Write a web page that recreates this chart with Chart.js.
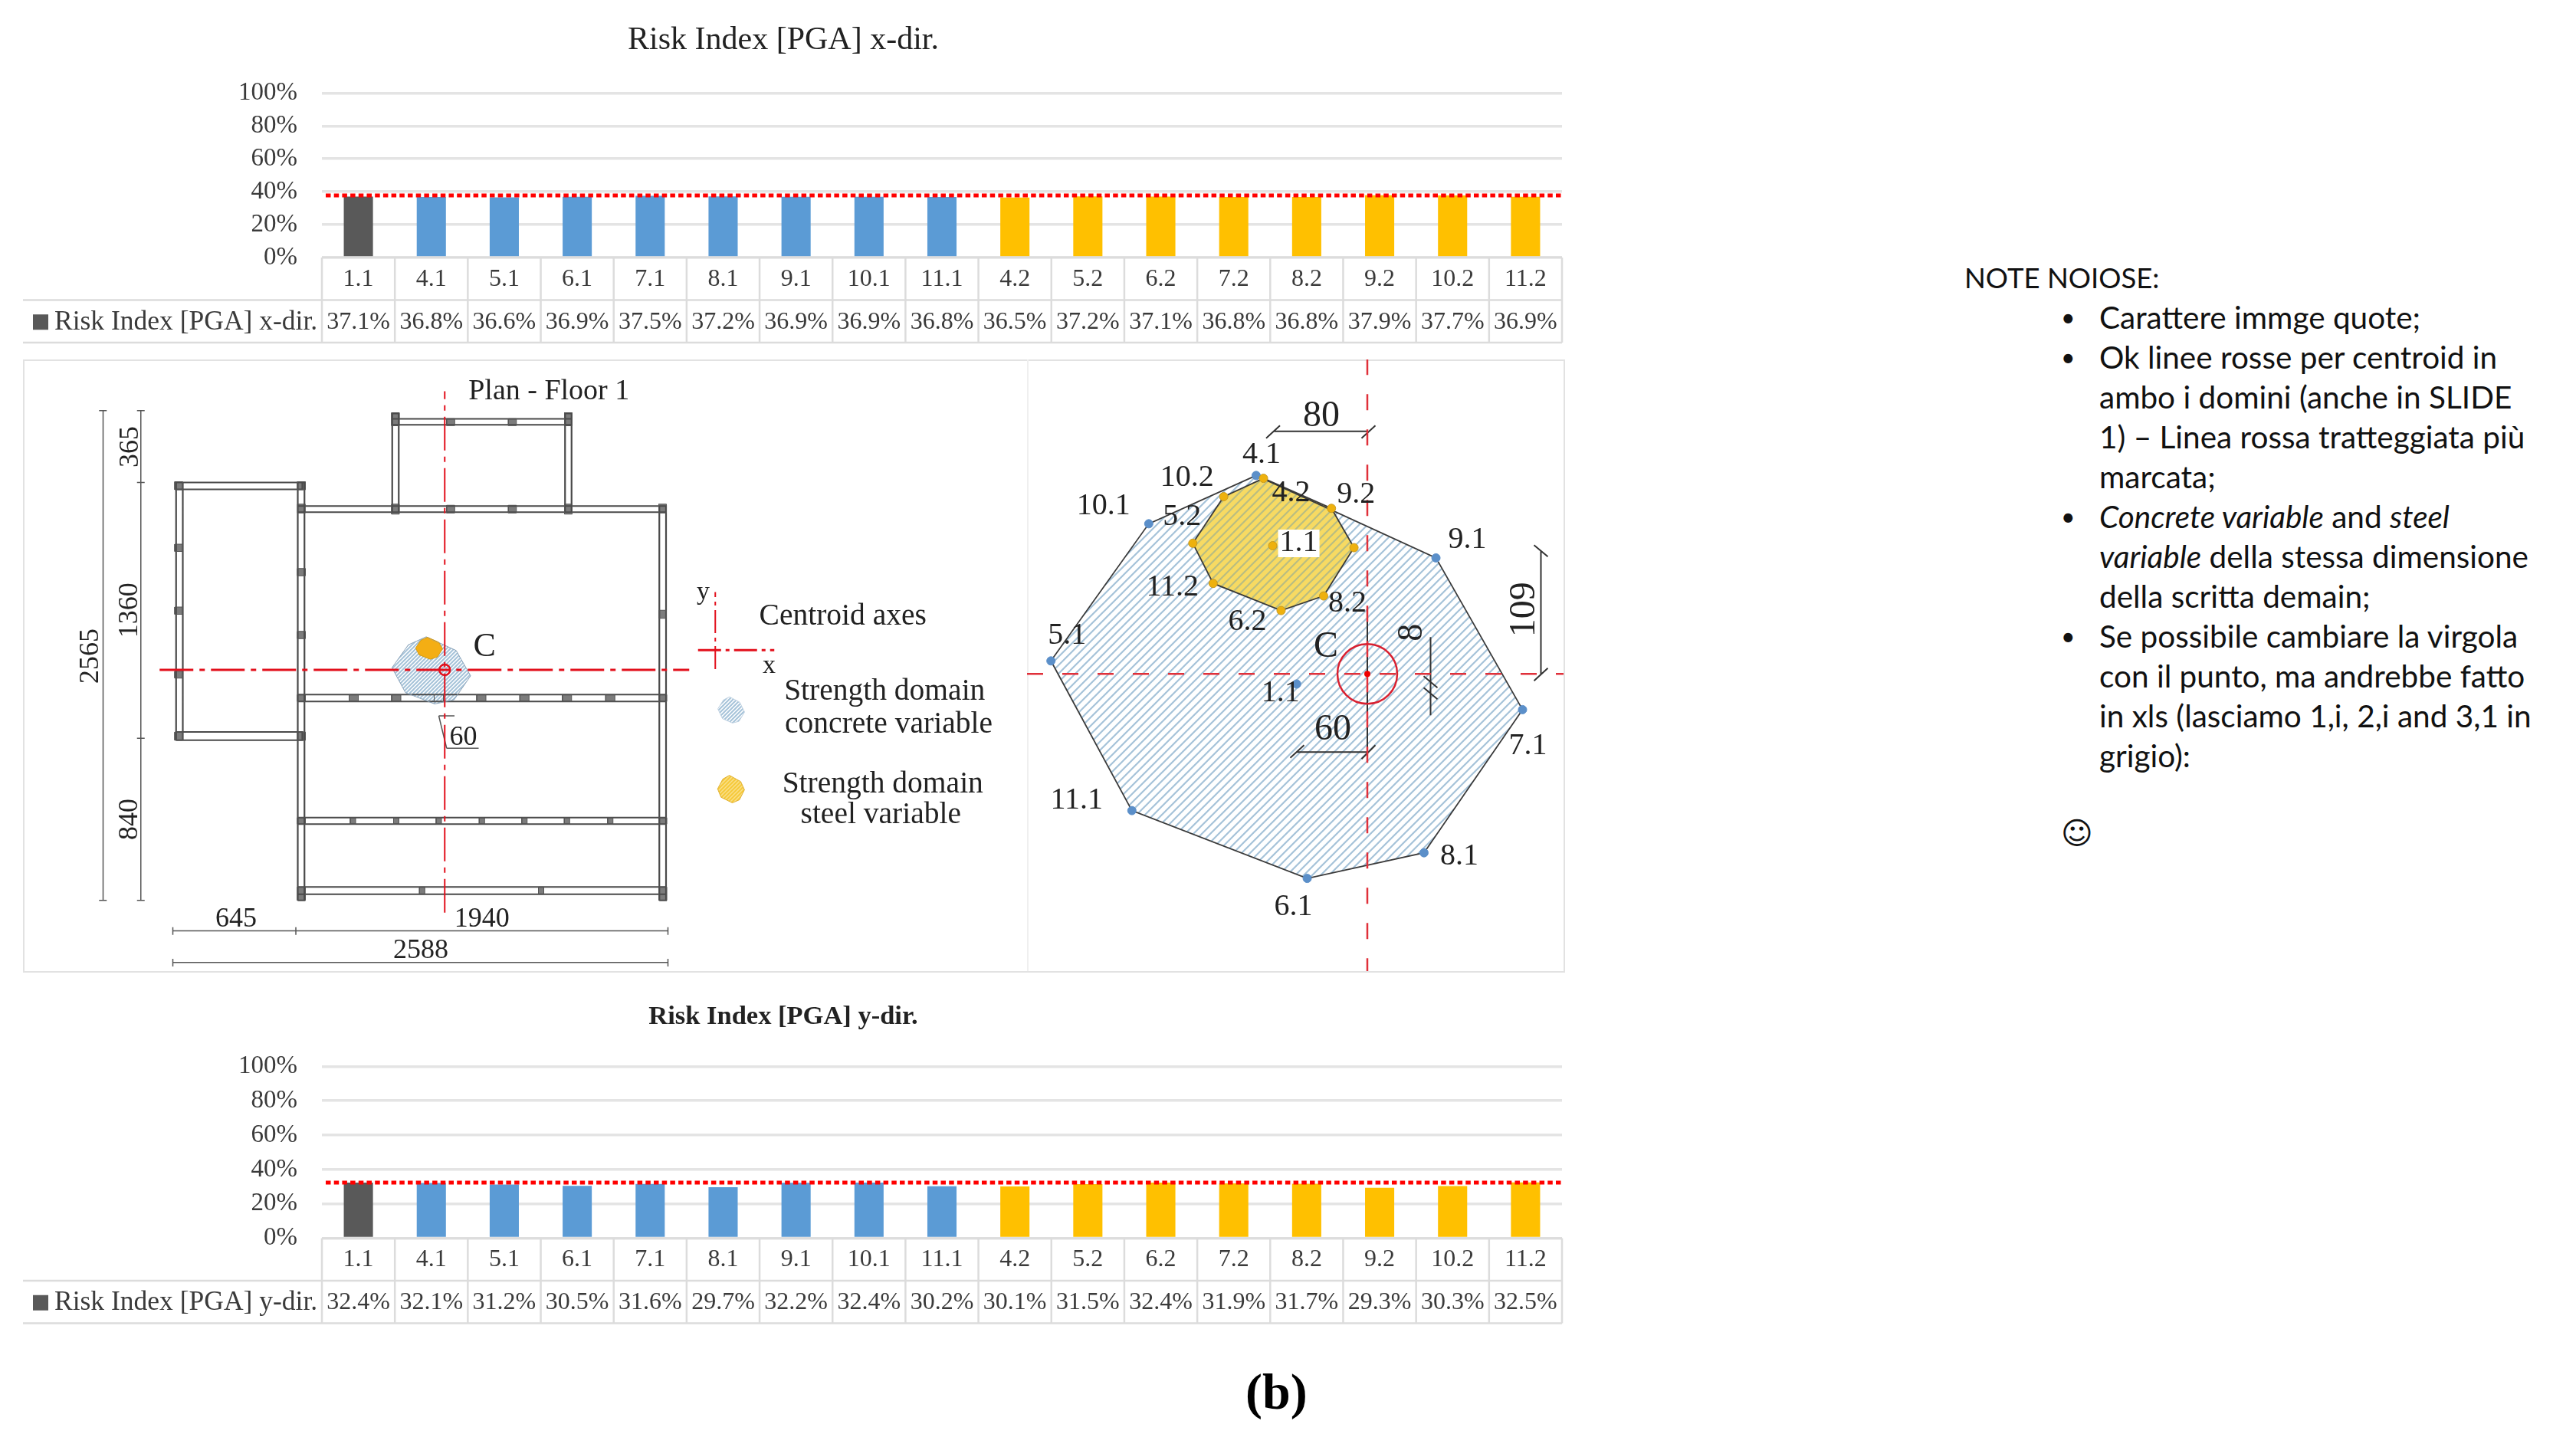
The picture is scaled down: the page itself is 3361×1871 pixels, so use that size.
<!DOCTYPE html>
<html>
<head>
<meta charset="utf-8">
<title>Risk Index [PGA]</title>
<script src="https://cdn.jsdelivr.net/npm/chart.js@4/dist/chart.umd.min.js"></script>
<style>
  html, body { margin: 0; padding: 0; background: #fff; }
  body { position: relative; width: 3361px; height: 1871px; overflow: hidden; }
  canvas { position: absolute; }
  #panel { position: absolute; left: 30px; top: 469px; width: 2008px; height: 796px; border: 2px solid #e2e2e2; }
  #divider { position: absolute; left: 1340px; top: 469px; width: 2px; height: 798px; background: #efefef; }
  #figLabel { position: absolute; left: 1625px; top: 1778px; font: bold 66px "Liberation Serif", serif; color: #000; }
  #notes { position: absolute; left: 2563px; top: 336px; font: 36.5px/52px Lato, sans-serif; color: #111; white-space: nowrap; }
  #notes ul { margin: 0; padding: 0 0 0 176px; list-style: none; font-size: 40.5px; }
  #notes li { position: relative; }
  #notes li::before { content: "•"; position: absolute; left: -50px; font-size: 32px; }
  #notes .smile { margin: 52px 0 0 126px; font: 40px "DejaVu Sans", sans-serif; }
</style>
</head>
<body>
<div id="panel"></div>
<div id="divider"></div>
<canvas id="riskX" width="2044" height="460" style="left:0;top:0"></canvas>
<canvas id="planChart" width="1310" height="798" style="left:30px;top:469px"></canvas>
<canvas id="domainChart" width="700" height="798" style="left:1340px;top:469px"></canvas>
<canvas id="riskY" width="2044" height="460" style="left:0;top:1280px"></canvas>
<div id="figLabel">(b)</div>
<div id="notes">
  NOTE NOIOSE:
  <ul>
    <li>Carattere immge quote;</li>
    <li>Ok linee rosse per centroid in<br>ambo i domini (anche in SLIDE<br>1) – Linea rossa tratteggiata più<br>marcata;</li>
    <li><i>Concrete variable</i> and <i>steel</i><br><i>variable</i> della stessa dimensione<br>della scritta demain;</li>
    <li>Se possibile cambiare la virgola<br>con il punto, ma andrebbe fatto<br>in xls (lasciamo 1,i, 2,i and 3,1 in<br>grigio):</li>
  </ul>
  <div class="smile">☺</div>
</div>

<script>
const categories = ['1.1', '4.1', '5.1', '6.1', '7.1', '8.1', '9.1', '10.1', '11.1', '4.2', '5.2', '6.2', '7.2', '8.2', '9.2', '10.2', '11.2'];
const riskXValues = [37.1, 36.8, 36.6, 36.9, 37.5, 37.2, 36.9, 36.9, 36.8, 36.5, 37.2, 37.1, 36.8, 36.8, 37.9, 37.7, 36.9];
const riskYValues = [32.4, 32.1, 31.2, 30.5, 31.6, 29.7, 32.2, 32.4, 30.2, 30.1, 31.5, 32.4, 31.9, 31.7, 29.3, 30.3, 32.5];
const riskXLimit = 37.7;
const riskYLimit = 32.3;

// strength domains, cm from the centroid
const concreteNames = ['4.1', '9.1', '7.1', '8.1', '6.1', '11.1', '5.1', '10.1'];
const concreteX = [-96.7, 59.7, 135, 49.3, -52.3, -204.8, -275.2, -190.1];
const concreteY = [172.6, 100.9, -31.1, -155.6, -177.9, -118.9, 11.3, 130.6];
const steelNames = ['4.2', '9.2', '7.2', '8.2', '6.2', '11.2', '5.2', '10.2'];
const steelX = [-90.3, -31.2, -11.6, -38, -75, -134.1, -151.8, -124.9];
const steelY = [170.1, 144, 109.8, 67.8, 55.1, 78.7, 113.6, 154.2];
const concreteCentre = [-61.5, -8.8];
const steelCentre = [-82.3, 111.5];

// floor plan, cm from the bottom left corner: [x1, y1, x2, y2]
const planBeams = [
  [17, 2145, 676, 2181], [17, 836, 676, 879], [17, 836, 52, 2181],
  [652, 0, 687, 2181], [2539, 0, 2574, 2058], [652, 2026, 2574, 2058],
  [652, 1038, 2574, 1074], [652, 398, 2574, 432], [652, 32, 2574, 70],
  [1145, 2482, 2081, 2513], [1145, 2026, 1179, 2541], [2047, 2026, 2081, 2541]
];
// columns: [centre x, centre y, width, depth]
const planColumns = [
  [1162, 2511, 40, 68], [2064, 2511, 40, 68],
  [1450, 2496, 42, 36], [1772, 2496, 42, 36],
  [671, 2045, 40, 46], [1162, 2042, 40, 52], [1450, 2042, 42, 40], [1772, 2042, 42, 40], [2064, 2042, 40, 52], [2556, 2045, 40, 46],
  [31, 2164, 42, 42], [671, 2164, 42, 42], [31, 1840, 42, 38], [31, 1512, 42, 38], [31, 1178, 42, 36], [31, 857, 42, 43], [671, 857, 42, 43],
  [671, 1713, 42, 38], [671, 1385, 42, 38], [2556, 1493, 36, 42],
  [671, 1056, 42, 36], [944, 1056, 48, 36], [1166, 1056, 48, 36], [1388, 1056, 48, 36], [1610, 1056, 48, 36], [1835, 1056, 48, 36], [2057, 1056, 48, 36], [2283, 1056, 48, 36], [2557, 1056, 42, 36],
  [671, 415, 42, 34], [940, 415, 28, 34], [1166, 415, 28, 34], [1388, 415, 28, 34], [1613, 415, 28, 34], [1835, 415, 28, 34], [2057, 415, 28, 34], [2283, 415, 28, 34], [2557, 415, 42, 34],
  [671, 35, 42, 70], [1301, 51, 28, 38], [1922, 51, 28, 38], [2557, 35, 42, 70]
];
const planDimensions = [
  [-364, 0, -364, 2556], [-167, 0, -167, 2556],
  [-385, 2556, -345, 2556], [-385, 0, -345, 0], [-187, 2556, -147, 2556], [-187, 2181, -147, 2181], [-187, 846, -147, 846], [-187, 0, -147, 0],
  [0, -159, 2584, -159], [0, -324, 2584, -324],
  [0, -180, 0, -140], [642, -180, 642, -140], [2584, -180, 2584, -140], [0, -345, 0, -305], [2584, -345, 2584, -305],
  [1388, 963, 1470, 963], [1388, 963, 1429, 794], [1429, 794, 1596, 794]
];
const planCentroid = [1419, 1203];
const planAxisX = [-69, 2695];
const planAxisY = [-64, 2657];
const legendAxisX = [2741, 3139, 1306];
const legendAxisY = [2831, 1207, 1609];
const legendConcrete = [2938, 995];
const legendSteel = [2995, 440];

// dimension marks of the domain sketch: [x1, y1, x2, y2]
const domainDimensions = [
  [-81, 211, 0, 211], [-88, 205, -76, 216], [-5, 205, 7, 216],
  [-61, -68, 0, -68], [-67, -73, -55, -62], [-5, -74, 7, -62],
  [151, 0, 151, 107], [145, 112, 157, 102], [145, -6, 157, 5],
  [55, -36, 55, 32], [49, -2, 61, -12], [49, -12, 61, -22],
  [0, 54, 0, -68]
];

const planLabels = [
  ['Plan - Floor 1', 1963, 2656, 38, 0],
  ['365', -219, 2367, 36, -90], ['1360', -225, 1514, 36, -90], ['2565', -427, 1275, 36, -90], ['840', -225, 423, 36, -90],
  ['645', 330, -100, 36, 0], ['1940', 1613, -100, 36, 0], ['2588', 1294, -265, 36, 0], ['60', 1516, 847, 36, 0],
  ['C', 1627, 1323, 44, 0], ['y', 2768, 1605, 34, 0], ['x', 3112, 1224, 34, 0],
  ['Centroid axes', 3497, 1482, 39.5, 0],
  ['Strength domain', 3715, 1090, 39.5, 0], ['concrete variable', 3736, 917, 39.5, 0],
  ['Strength domain', 3705, 603, 39.5, 0], ['steel variable', 3695, 445, 39.5, 0]
];
const domainLabels = [
  ['80', -40, 224, 48, 0], ['60', -30, -49, 48, 0], ['109', 137, 56, 48, -90], ['8', 39, 36, 46, -90], ['C', -36, 23, 48, 0]
];
// label offsets from the vertex, in pixels
const concreteOffsets = [[7, -27], [41, -23], [7, 48], [46, 5], [-18, 37], [-72, -13], [21, -33], [-59, -23]];
const steelOffsets = [[36, 19], [32, -18], null, [31, 10], [-44, 15], [-53, 5], [-14, -34], [-48, -24]];

const SERIF = '"Liberation Serif", serif';
const TEXT_COLOR = '#3a3a3a';
const RED = '#e2101c';

function toPoints(xs, ys) {
  return xs.map((x, i) => ({ x: x, y: ys[i] }));
}

// closed path, so the outline comes back to the first vertex
function closed(points) {
  return points.concat([points[0]]);
}

function fromSegments(segments) {
  return segments.flatMap(s => [{ x: s[0], y: s[1] }, { x: s[2], y: s[3] }, { x: NaN, y: NaN }]);
}

function fromRects(rects) {
  return rects.flatMap(r => [
    { x: r[0], y: r[1] }, { x: r[2], y: r[1] }, { x: r[2], y: r[3] }, { x: r[0], y: r[3] }, { x: r[0], y: r[1] }, { x: NaN, y: NaN }
  ]);
}

function hatchPattern(background, lineColor, size, width) {
  const tile = document.createElement('canvas');
  tile.width = size;
  tile.height = size;
  const c = tile.getContext('2d');
  c.fillStyle = background;
  c.fillRect(0, 0, size, size);
  c.strokeStyle = lineColor;
  c.lineWidth = width;
  c.beginPath();
  c.moveTo(-1, 1); c.lineTo(1, -1);
  c.moveTo(0, size); c.lineTo(size, 0);
  c.moveTo(size - 1, size + 1); c.lineTo(size + 1, size - 1);
  c.stroke();
  return c.createPattern(tile, 'repeat');
}

function lineSet(data, color, width, extra) {
  return Object.assign({
    data: data, showLine: true, borderColor: color, borderWidth: width,
    pointRadius: 0, spanGaps: false, backgroundColor: 'transparent'
  }, extra || {});
}

// fill of the polygon datasets, under all the lines
// last dataset first, the same stacking Chart.js uses for the lines
const polygonFillPlugin = {
  id: 'polygonFill',
  beforeDatasetsDraw(chart) {
    const ctx = chart.ctx;
    const xs = chart.scales.x;
    const ys = chart.scales.y;
    ctx.save();
    chart.data.datasets.slice().reverse().forEach(ds => {
      if (!ds.polygonFill) return;
      ctx.beginPath();
      let open = false;
      ds.data.forEach(p => {
        if (isNaN(p.x)) { open = false; return; }
        const px = xs.getPixelForValue(p.x);
        const py = ys.getPixelForValue(p.y);
        if (open) ctx.lineTo(px, py); else ctx.moveTo(px, py);
        open = true;
      });
      ctx.fillStyle = ds.polygonFill;
      ctx.fill();
    });
    ctx.restore();
  }
};

// text placed by data coordinates
const sketchTextPlugin = {
  id: 'sketchText',
  afterDatasetsDraw(chart, args, opts) {
    const ctx = chart.ctx;
    const xs = chart.scales.x;
    const ys = chart.scales.y;
    ctx.save();
    ctx.textAlign = 'center';
    ctx.textBaseline = 'middle';
    (opts.items || []).forEach(t => {
      const px = xs.getPixelForValue(t.x) + (t.dx || 0);
      const py = ys.getPixelForValue(t.y) + (t.dy || 0);
      ctx.save();
      ctx.translate(px, py);
      ctx.rotate((t.rot || 0) * Math.PI / 180);
      ctx.font = t.size + 'px ' + SERIF;
      if (t.box) {
        const w = ctx.measureText(t.text).width;
        ctx.fillStyle = '#fff';
        ctx.fillRect(-w / 2 - 2, -t.size / 2 + 3, w + 4, t.size - 4);
      }
      ctx.fillStyle = '#222';
      ctx.fillText(t.text, 0, 0);
      ctx.restore();
    });
    ctx.restore();
  }
};

// data table under the bars plus the red limit line
const riskTablePlugin = {
  id: 'riskTable',
  afterDatasetsDraw(chart, args, opts) {
    const ctx = chart.ctx;
    const xs = chart.scales.x;
    const ys = chart.scales.y;
    const limitY = ys.getPixelForValue(opts.limit);
    ctx.save();
    ctx.strokeStyle = '#ff0000';
    ctx.lineWidth = 5;
    ctx.setLineDash([6.5, 4.2]);
    ctx.beginPath();
    ctx.moveTo(xs.left + 5, limitY);
    ctx.lineTo(xs.right, limitY);
    ctx.stroke();
    ctx.restore();
  },
  afterDraw(chart, args, opts) {
    const ctx = chart.ctx;
    const xs = chart.scales.x;
    const step = xs.width / categories.length;
    const top = xs.top;
    const mid = top + opts.rowHeight;
    const bottom = mid + opts.rowHeight;
    ctx.save();
    ctx.strokeStyle = '#dcdcdc';
    ctx.lineWidth = 2.5;
    ctx.beginPath();
    ctx.moveTo(xs.left, top); ctx.lineTo(xs.right, top);
    ctx.moveTo(opts.tableLeft, mid); ctx.lineTo(xs.right, mid);
    ctx.moveTo(opts.tableLeft, bottom); ctx.lineTo(xs.right, bottom);
    for (let i = 0; i <= categories.length; i++) {
      ctx.moveTo(xs.left + i * step, top);
      ctx.lineTo(xs.left + i * step, bottom);
    }
    ctx.stroke();
    ctx.font = '32px ' + SERIF;
    ctx.fillStyle = TEXT_COLOR;
    ctx.textBaseline = 'middle';
    ctx.textAlign = 'center';
    const rowY = (mid + bottom) / 2 + 1;
    opts.values.forEach((v, i) => {
      ctx.fillText(v.toFixed(1) + '%', xs.getPixelForValue(i), rowY);
    });
    ctx.fillStyle = '#595959';
    ctx.fillRect(opts.tableLeft + 13, rowY - 10, 20, 20);
    ctx.fillStyle = TEXT_COLOR;
    ctx.textAlign = 'left';
    ctx.font = '35.5px ' + SERIF;
    ctx.fillText(opts.seriesName, opts.tableLeft + 41, rowY);
    ctx.restore();
  }
};

function barColor(label, index) {
  if (index === 0) return '#595959';
  return label.endsWith('.1') ? '#5B9BD5' : '#FFC000';
}

function riskChart(id, cfg) {
  return new Chart(document.getElementById(id), {
    type: 'bar',
    data: {
      labels: categories,
      datasets: [{
        label: cfg.title,
        data: cfg.values,
        backgroundColor: categories.map(barColor),
        categoryPercentage: 1,
        barPercentage: 0.4
      }]
    },
    options: {
      responsive: false,
      animation: false,
      devicePixelRatio: 1,
      layout: { padding: { left: 6, right: 6, top: 0, bottom: 0 } },
      scales: {
        y: {
          min: 0, max: 100,
          ticks: { stepSize: 20, padding: 32, color: TEXT_COLOR, font: { family: SERIF, size: 33 }, callback: v => v + '%' },
          grid: { color: '#e4e4e4', lineWidth: 3.5, drawTicks: false },
          border: { display: false },
          afterFit(s) { s.width = 414; }
        },
        x: {
          ticks: { padding: 9, autoSkip: false, maxRotation: 0, color: TEXT_COLOR, font: { family: SERIF, size: 32 } },
          grid: { display: false, drawTicks: false },
          border: { display: false },
          afterFit(s) { s.height = cfg.axisHeight; }
        }
      },
      plugins: {
        legend: { display: false },
        tooltip: { enabled: false },
        title: {
          display: true,
          text: cfg.title,
          color: cfg.titleColor,
          font: { family: SERIF, size: cfg.titleSize, weight: cfg.titleWeight, lineHeight: 1.2 },
          padding: cfg.titlePadding
        },
        riskTable: { limit: cfg.limit, values: cfg.values, seriesName: cfg.title, rowHeight: 55.5, tableLeft: 30 }
      }
    },
    plugins: [riskTablePlugin]
  });
}

function sketchOptions(xRange, yRange, textItems) {
  return {
    responsive: false,
    animation: false,
    devicePixelRatio: 1,
    layout: { padding: 0, autoPadding: false },
    scales: {
      x: { type: 'linear', display: false, min: xRange[0], max: xRange[1] },
      y: { type: 'linear', display: false, min: yRange[0], max: yRange[1] }
    },
    plugins: { legend: { display: false }, tooltip: { enabled: false }, sketchText: { items: textItems } }
  };
}

function labelItems(list) {
  return list.map(l => ({ text: l[0], x: l[1], y: l[2], size: l[3], rot: l[4] }));
}

riskChart('riskX', {
  title: 'Risk Index [PGA] x-dir.', values: riskXValues, limit: riskXLimit,
  titleSize: 42, titleWeight: 'normal', titleColor: '#222',
  titlePadding: { top: 28, bottom: 43 }, axisHeight: 124
});

riskChart('riskY', {
  title: 'Risk Index [PGA] y-dir.', values: riskYValues, limit: riskYLimit,
  titleSize: 34.5, titleWeight: 'bold', titleColor: '#222',
  titlePadding: { top: 26, bottom: 44 }, axisHeight: 124.5
});

// floor plan
const concretePoints = toPoints(concreteX, concreteY);
const steelPoints = toPoints(steelX, steelY);
const shift = (pts, at, scaleX, scaleY) => pts.map(p => ({ x: at[0] + p.x * scaleX, y: at[1] + p.y * scaleY }));
const planConcrete = closed(shift(concretePoints, planCentroid, 1, 1));
const planSteel = closed(shift(steelPoints, planCentroid, 1, 1));
const legendConcretePoly = closed(shift(concretePoints, legendConcrete, 0.34, 0.39));
const legendSteelPoly = closed(shift(steelPoints, legendSteel, 1, 1.25));
const columnRects = planColumns.map(c => [c[0] - c[2] / 2, c[1] - c[3] / 2, c[0] + c[2] / 2, c[1] + c[3] / 2]);

new Chart(document.getElementById('planChart'), {
  type: 'scatter',
  data: {
    datasets: [
      lineSet([{ x: planCentroid[0], y: planCentroid[1] }], RED, 2, { pointRadius: 7, pointBorderColor: RED, pointBorderWidth: 2.5, pointBackgroundColor: 'transparent', showLine: false }),
      lineSet([{ x: planAxisX[0], y: planCentroid[1] }, { x: planAxisX[1], y: planCentroid[1] }], RED, 3, { borderDash: [44, 8, 7, 8] }),
      lineSet([{ x: planCentroid[0], y: planAxisY[0] }, { x: planCentroid[0], y: planAxisY[1] }], RED, 2, { borderDash: [44, 8, 7, 8] }),
      lineSet([{ x: legendAxisX[0], y: legendAxisX[2] }, { x: legendAxisX[1], y: legendAxisX[2] }], RED, 3, { borderDash: [30, 6, 5, 6] }),
      lineSet([{ x: legendAxisY[0], y: legendAxisY[1] }, { x: legendAxisY[0], y: legendAxisY[2] }], RED, 2, { borderDash: [30, 6, 5, 6] }),
      lineSet(planSteel, '#d59a10', 1, { polygonFill: '#f4ae14' }),
      lineSet(planConcrete, '#8aa2b8', 1, { polygonFill: hatchPattern('#ffffff', '#a6c3d9', 5, 2) }),
      lineSet(legendSteelPoly, '#e0b030', 1, { polygonFill: hatchPattern('#f6c93a', '#f9e08c', 5, 1.5) }),
      lineSet(legendConcretePoly, '#c0d2e2', 1, { polygonFill: hatchPattern('#ffffff', '#a6c3d9', 5, 2) }),
      lineSet(fromSegments(planDimensions), '#555', 1.5),
      lineSet(fromRects(columnRects), '#555', 1, { polygonFill: '#7c7c7c' }),
      lineSet(fromRects(planBeams), '#4a4a4a', 2.2)
    ]
  },
  options: sketchOptions([-782, 4458], [-369, 2823], labelItems(planLabels)),
  plugins: [polygonFillPlugin, sketchTextPlugin]
});

// strength domains
const vertexLabels = (names, pts, offsets) => names.map((n, i) => offsets[i] && ({
  text: n, x: pts[i].x, y: pts[i].y, size: 40, dx: offsets[i][0], dy: offsets[i][1]
})).filter(Boolean);

const domainText = labelItems(domainLabels)
  .concat(vertexLabels(concreteNames, concretePoints, concreteOffsets))
  .concat(vertexLabels(steelNames, steelPoints, steelOffsets))
  .concat([
    { text: '1.1', x: concreteCentre[0], y: concreteCentre[1], size: 40, dx: -21, dy: 12 },
    { text: '1.1', x: steelCentre[0], y: steelCentre[1], size: 40, dx: 34, dy: -4, box: true }
  ]);

new Chart(document.getElementById('domainChart'), {
  type: 'scatter',
  data: {
    datasets: [
      lineSet([{ x: 0, y: 0 }], RED, 0, { pointRadius: 4, pointBackgroundColor: '#f00000', pointBorderWidth: 0, showLine: false }),
      lineSet([{ x: 0, y: 0 }], RED, 2.5, { pointRadius: 39, pointBorderColor: '#d92030', pointBorderWidth: 2.5, pointBackgroundColor: 'transparent', showLine: false }),
      lineSet(steelPoints.concat([{ x: steelCentre[0], y: steelCentre[1] }]), 'transparent', 0, { showLine: false, pointRadius: 5.5, pointBackgroundColor: '#eeb10e', pointBorderColor: '#c89a20', pointBorderWidth: 1 }),
      lineSet(concretePoints.concat([{ x: concreteCentre[0], y: concreteCentre[1] }]), 'transparent', 0, { showLine: false, pointRadius: 5.5, pointBackgroundColor: '#5b8fc9', pointBorderColor: '#5b8fc9', pointBorderWidth: 1 }),
      lineSet([{ x: -296, y: 0 }, { x: 171, y: 0 }], '#e0303a', 2.5, { borderDash: [21, 25] }),
      lineSet([{ x: 0, y: 274 }, { x: 0, y: -259 }], '#e0303a', 2.5, { borderDash: [21, 25] }),
      lineSet(fromSegments(domainDimensions), '#333', 2),
      lineSet(closed(steelPoints), '#3a3a3a', 1.8, { polygonFill: hatchPattern('#f7da62', '#b9bd82', 11, 2.2) }),
      lineSet(closed(concretePoints), '#3a3a3a', 1.8, { polygonFill: hatchPattern('#ffffff', '#a6c3d9', 11, 2.2) })
    ]
  },
  options: sketchOptions([-296, 170.67], [-258.5, 273.5], domainText),
  plugins: [polygonFillPlugin, sketchTextPlugin]
});
</script>
</body>
</html>
